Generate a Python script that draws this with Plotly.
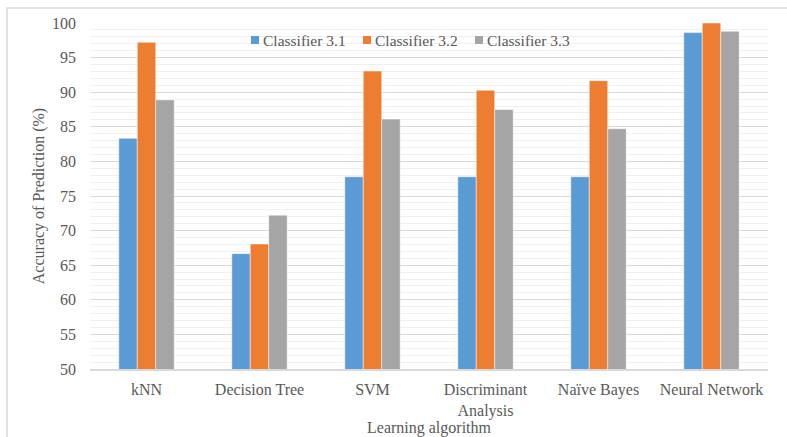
import plotly.graph_objects as go

# Learning algorithms compared
algorithms = ["kNN", "Decision Tree", "SVM", "Discriminant<br>Analysis",
              "Naïve Bayes", "Neural Network"]

# Prediction accuracy (%) for each classifier
classifier_31 = [83.33, 66.67, 77.78, 77.78, 77.78, 98.61]
classifier_32 = [97.22, 68.06, 93.06, 90.28, 91.67, 100.0]
classifier_33 = [88.89, 72.22, 86.11, 87.5, 84.72, 98.8]

series_names = ["Classifier 3.1", "Classifier 3.2", "Classifier 3.3"]
series_colors = ["#5B9BD5", "#ED7D31", "#A5A5A5"]

W, H = 787, 437
ML, MR, MT, MB = 90, 19, 23, 68
pw, ph = W - ML - MR, H - MT - MB

fig = go.Figure()
for name, vals, color in zip(series_names,
                             [classifier_31, classifier_32, classifier_33],
                             series_colors):
    fig.add_trace(go.Bar(
        x=algorithms, y=vals, name=name, showlegend=False,
        marker=dict(color=color, line=dict(color="rgba(255,255,255,0.6)", width=0.8)),
    ))

font_family = "Liberation Serif, Times New Roman, serif"
text_color = "#595959"


def px_to_paper_x(px):
    return (px - ML) / pw


def px_to_paper_y(py):
    return 1 - (py - MT) / ph


# light outer chart frame
fig.add_shape(type="rect", xref="paper", yref="paper",
              x0=px_to_paper_x(7), x1=px_to_paper_x(800),
              y0=px_to_paper_y(450), y1=px_to_paper_y(8),
              line=dict(color="#D9D9D9", width=1.5), layer="below")

# compact legend row: small colour square followed by its label
legend_marker_x = [251, 363, 475]
legend_y = 40
for name, color, mx in zip(series_names, series_colors, legend_marker_x):
    fig.add_shape(type="rect", xref="paper", yref="paper",
                  x0=px_to_paper_x(mx), x1=px_to_paper_x(mx + 8),
                  y0=px_to_paper_y(legend_y + 4), y1=px_to_paper_y(legend_y - 4),
                  fillcolor=color, line=dict(width=0))
    fig.add_annotation(xref="paper", yref="paper",
                       x=px_to_paper_x(mx + 10), y=px_to_paper_y(legend_y),
                       xanchor="left", yanchor="middle", showarrow=False,
                       text=name, font=dict(size=15.5, color=text_color,
                                            family=font_family))

fig.update_layout(
    width=W, height=H,
    margin=dict(l=ML, r=MR, t=MT, b=MB, autoexpand=False),
    paper_bgcolor="white", plot_bgcolor="white",
    barmode="group", bargap=0.51, bargroupgap=0,
    font=dict(family=font_family, color=text_color, size=16),
    showlegend=False,
    xaxis=dict(showline=True, linecolor="#D9D9D9", linewidth=1.5,
               automargin=False,
               ticks="outside", ticklen=5, tickcolor="rgba(0,0,0,0)",
               tickfont=dict(size=16, color=text_color),
               title=dict(text="Learning algorithm", font=dict(size=16, color=text_color),
                          standoff=8)),
    yaxis=dict(range=[50, 100], dtick=5, tick0=50, showline=False,
               automargin=False,
               gridcolor="#D9D9D9", gridwidth=1, zeroline=False,
               tickfont=dict(size=16, color=text_color), ticks="",
               ticklen=0, ticklabelstandoff=13,
               minor=dict(dtick=1, showgrid=True, gridcolor="#F0F0F0", gridwidth=1),
               title=dict(text="Accuracy of Prediction (%)",
                          font=dict(size=16, color=text_color), standoff=3)),
)

fig.write_html("out.html")
